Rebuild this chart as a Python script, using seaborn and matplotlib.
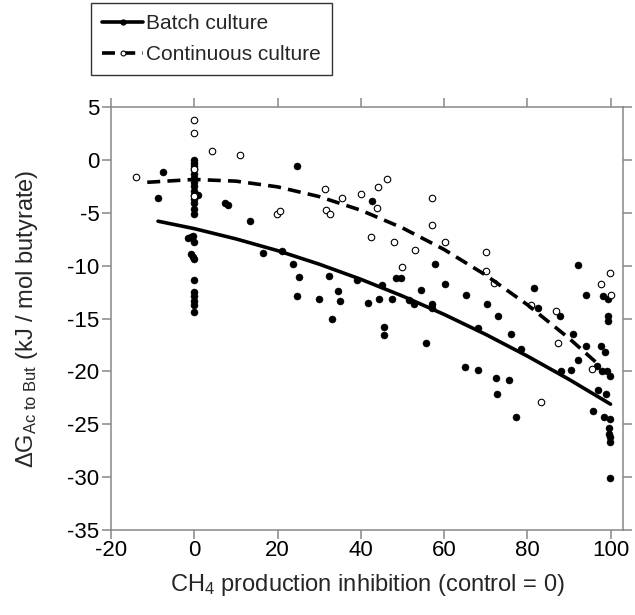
import numpy as np
import pandas as pd
import matplotlib
matplotlib.use("Agg")
import matplotlib.pyplot as plt
from matplotlib.lines import Line2D
import seaborn as sns

# ---------------- data ----------------
batch_x = [0, 0, 0, 0, 0, 0, 0, 0, 0, 0, 0, 0, 0, 0,
           1.0, -1.5, -0.9, -0.2, 0, -0.8, -0.2, 0, 0, 0, 0, 0, 0, 0,
           -8.7, -7.4,
           7.4, 8.2, 13.5, 16.6, 21.0, 23.8, 24.8, 25.2, 24.7, 30.0, 32.4, 33.1,
           34.6, 35.0, 39.0, 42.8, 41.8, 44.4, 45.0, 45.6, 45.5, 47.5, 48.4, 49.6,
           51.6, 52.8, 54.4, 55.6, 57.9, 60.3, 57.2, 57.2, 65.4, 70.3, 73.0, 76.2,
           81.5, 82.6, 87.9, 91.1, 92.2, 94.0, 97.8, 98.6, 98.2, 99.5, 99.4, 99.4,
           68.2, 78.6, 65.1, 68.2, 72.5, 75.5, 72.7, 77.3, 92.2, 94.0, 90.4, 88.2,
           96.8, 97.9, 99.1, 99.9, 97.0, 99.0, 95.9, 98.5, 99.8, 99.6, 99.6, 99.8,
           99.8, 99.9]
batch_y = [0.0, -0.3, -0.6, -0.9, -1.3, -1.7, -2.1, -2.5, -2.9, -3.3, -3.7, -4.1, -4.6, -5.1,
           -3.3, -7.4, -7.3, -7.2, -7.8, -8.9, -9.2, -9.4, -11.4, -12.5, -12.9, -13.3, -13.7, -14.4,
           -3.6, -1.1,
           -4.1, -4.3, -5.8, -8.8, -8.6, -9.8, -0.6, -11.1, -12.9, -13.2, -11.0, -15.0,
           -12.4, -13.3, -11.4, -3.9, -13.5, -13.2, -11.8, -15.8, -16.6, -13.2, -11.2, -11.2,
           -13.25, -13.65, -12.3, -17.3, -9.8, -11.7, -13.6, -14.0, -12.75, -13.6, -14.8, -16.5,
           -12.1, -14.0, -14.8, -16.5, -9.9, -12.75, -17.6, -18.2, -12.9, -13.2, -14.8, -15.2,
           -15.9, -17.9, -19.6, -19.85, -20.65, -20.8, -22.1, -24.3, -18.9, -17.6, -19.9, -20.0,
           -19.5, -20.0, -20.0, -20.4, -21.8, -22.1, -23.7, -24.3, -24.5, -25.4, -25.9, -26.2,
           -26.65, -30.1]

cont_x = [-14.0, 0, 0, 0, 0, 4.2, 11.0, 19.8, 20.6, 31.5, 31.7, 32.7, 35.6, 40.0,
          44.1, 46.2, 43.8, 42.5, 48.1, 53.0, 49.8, 57.0, 57.0, 60.3, 70.0, 70.0,
          72.1, 80.8, 87.0, 87.5, 97.7, 99.9, 100.0, 95.5, 83.4]
cont_y = [-1.6, 3.8, 2.5, -0.9, -3.4, 0.8, 0.5, -5.1, -4.8, -2.75, -4.7, -5.1, -3.6, -3.2,
          -2.6, -1.8, -4.55, -7.3, -7.8, -8.5, -10.1, -3.6, -6.2, -7.8, -8.7, -10.5,
          -11.6, -13.7, -14.3, -17.3, -11.7, -10.7, -12.8, -19.8, -22.9]

# trend lines
batch_fit_x = [-8.7, 0, 10, 20, 30, 40, 50, 60, 70, 80, 90, 100]
batch_fit_y = [-5.8, -6.5, -7.47, -8.58, -9.86, -11.29, -12.87, -14.61, -16.5, -18.55, -20.75, -23.1]
cont_fit_x = [-11.3, 0, 10, 20, 30, 40, 50, 60, 70, 80, 90, 97]
cont_fit_y = [-2.12, -1.85, -2.01, -2.55, -3.47, -4.76, -6.43, -8.47, -10.89, -13.69, -16.86, -19.31]

x_ticks = [-20, 0, 20, 40, 60, 80, 100]
y_ticks = [-35, -30, -25, -20, -15, -10, -5, 0, 5]
series_labels = ["Batch culture", "Continuous culture"]

# ---------------- styling ----------------
sns.set_style("white")
plt.rcParams["font.family"] = ["Liberation Sans", "DejaVu Sans"]
plt.rcParams["mathtext.fontset"] = "custom"
plt.rcParams["mathtext.rm"] = "Liberation Sans"
plt.rcParams["mathtext.it"] = "Liberation Sans"
plt.rcParams["mathtext.default"] = "regular"

W, H = 635, 615
fig = plt.figure(figsize=(W / 100, H / 100), dpi=100)
ax = fig.add_axes([111 / W, 1 - 530 / H, 512 / W, 423 / H])

batch = pd.DataFrame({"x": batch_x, "y": batch_y})
cont = pd.DataFrame({"x": cont_x, "y": cont_y})
bfit = pd.DataFrame({"x": batch_fit_x, "y": batch_fit_y})
cfit = pd.DataFrame({"x": cont_fit_x, "y": cont_fit_y})

sns.scatterplot(data=batch, x="x", y="y", ax=ax, color="black", s=26,
                edgecolor="black", linewidth=0.3, zorder=3)
sns.scatterplot(data=cont, x="x", y="y", ax=ax, facecolor="white", s=22,
                edgecolor="black", linewidth=0.8, zorder=3)

sns.lineplot(data=bfit, x="x", y="y", ax=ax, color="black", lw=2.6,
             sort=False, zorder=4)
sns.lineplot(data=cfit, x="x", y="y", ax=ax, color="black", lw=2.6,
             sort=False, zorder=4)
ax.lines[-1].set_dashes([3.6, 2.0])

ax.set_xlim(-20, 103)
ax.set_ylim(-35, 5)
ax.set_xticks(x_ticks)
ax.set_yticks(y_ticks)
ax.set_xticklabels([str(t) for t in x_ticks])
ax.set_yticklabels([str(t) for t in y_ticks])

for sp in ax.spines.values():
    sp.set_visible(True)
    sp.set_color("#888888")
    sp.set_linewidth(1.1)
ax.tick_params(axis="both", which="both", direction="out", length=6.2, width=1.1,
               color="#888888", labelsize=16, labelcolor="black",
               top=True, right=True, bottom=True, left=True)
ax.tick_params(axis="x", pad=1)
ax.tick_params(axis="y", pad=2)

ax.set_xlabel("CH$_4$ production inhibition (control = 0)", fontsize=17, labelpad=8)
ax.set_ylabel(r"$\Delta$G$_{Ac\ to\ But}$ (kJ / mol butyrate)", fontsize=17, labelpad=20)

handles = [
    Line2D([], [], color="black", lw=2.6, marker="o", ms=3.5, mfc="black", mec="black"),
    Line2D([], [], color="black", lw=2.6, marker="o", ms=3.5, mfc="white", mec="black",
           mew=0.8, dashes=[3.6, 2.0]),
]
leg = fig.legend(handles, series_labels, loc="upper left",
                 bbox_to_anchor=(91 / W, 1 - 3 / H), frameon=True, fancybox=False,
                 edgecolor="black", fontsize=15, borderpad=0.55, handlelength=1.95,
                 handletextpad=0.15, labelspacing=0.55, borderaxespad=0)
leg.get_frame().set_linewidth(1.0)

fig.savefig("out.png", dpi=100)
